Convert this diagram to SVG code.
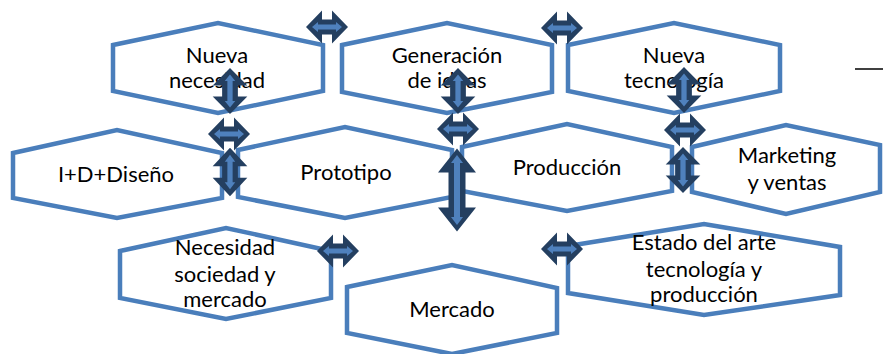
<svg xmlns="http://www.w3.org/2000/svg" width="883" height="354" viewBox="0 0 883 354">
<style>
.hex{fill:#fff;stroke:#4A7EBB;stroke-width:4.5;stroke-linejoin:miter}
.t{font-family:Lato,"Liberation Sans",sans-serif;font-size:22px;fill:#000;text-anchor:middle}
.ao{fill:#243F60}
.ai{fill:#4F81BD}
</style>
<defs>
<g id="arrS">
<path class="ao" d="M-21,0 L-5,-16.5 L-5,-7.5 L5,-7.5 L5,-16.5 L21,0 L5,16.5 L5,7.5 L-5,7.5 L-5,16.5 Z"/>
<path class="ai" d="M-15,0 L-9,-5 L-9,-2.5 L9,-2.5 L9,-5 L15,0 L9,5 L9,2.5 L-9,2.5 L-9,5 Z"/>
</g>
<g id="arrL">
<path class="ao" d="M-41.5,0 L-17.5,-19 L-17.5,-8.5 L17.5,-8.5 L17.5,-19 L41.5,0 L17.5,19 L17.5,8.5 L-17.5,8.5 L-17.5,19 Z"/>
<path class="ai" d="M-35,0 L-27,-6 L-27,-3 L27,-3 L27,-6 L35,0 L27,6 L27,3 L-27,3 L-27,6 Z"/>
</g>
</defs>
<line x1="855" y1="69" x2="883" y2="69" stroke="#000" stroke-width="1.5"/>
<g id="n1"><polygon class="hex" points="113,45 218,23 323,45 323,91 218,113 113,91"/><text class="t" x="217" y="63">Nueva</text><text class="t" x="217" y="88">necesidad</text></g>
<g id="n2"><polygon class="hex" points="342,45 447,23 552,45 552,92 447,113 342,92"/><text class="t" x="447" y="63">Generación</text><text class="t" x="447" y="88">de ideas</text></g>
<g id="n3"><polygon class="hex" points="568,45 674,23 780,45 780,91 674,113 568,91"/><text class="t" x="674" y="63">Nueva</text><text class="t" x="674" y="88">tecnología</text></g>
<g id="n4"><polygon class="hex" points="13,153 117,130 222,153 222,198 117,218 13,198"/><text class="t" x="116" y="182">I+D+Diseño</text></g>
<g id="n5"><polygon class="hex" points="238,150 345,127 452,150 452,197 345,218 238,197"/><text class="t" x="346" y="180">Prototipo</text></g>
<g id="n6"><polygon class="hex" points="462,147 567,124 672,147 672,191 567,211 462,191"/><text class="t" x="567" y="175">Producción</text></g>
<g id="n7"><polygon class="hex" points="692,147 786,125 880,145 880,192 786,214 692,192"/><text class="t" x="787" y="163">Marketing</text><text class="t" x="787" y="190">y ventas</text></g>
<g id="n8"><polygon class="hex" points="120,251 226,228 331,251 331,298 226,319 120,298"/><text class="t" x="225" y="255">Necesidad</text><text class="t" x="225" y="282">sociedad y</text><text class="t" x="225" y="307">mercado</text></g>
<g id="n9"><polygon class="hex" points="347,287 452,265 557,288 557,333 452,354 347,333"/><text class="t" x="452" y="317">Mercado</text></g>
<g id="n10"><polygon class="hex" points="568,246 704,224 840,247 840,295 704,315 568,293"/><text class="t" x="704" y="250">Estado del arte</text><text class="t" x="704" y="277">tecnología y</text><text class="t" x="704" y="302">producción</text></g>
<g id="connectors">
<use href="#arrS" transform="translate(327,27)"/>
<use href="#arrS" transform="translate(562,28)"/>
<use href="#arrS" transform="translate(229,134)"/>
<use href="#arrS" transform="translate(458,129)"/>
<use href="#arrS" transform="translate(685,130)"/>
<use href="#arrS" transform="translate(338,251)"/>
<use href="#arrS" transform="translate(562,249)"/>
<use href="#arrS" transform="translate(230,91) rotate(90) scale(1.1,1.05)"/>
<use href="#arrS" transform="translate(458,91) rotate(90) scale(1.1,1.05)"/>
<use href="#arrS" transform="translate(684,90) rotate(90) scale(1.1,1.05)"/>
<use href="#arrS" transform="translate(230,172) rotate(90) scale(1.15,1.05)"/>
<use href="#arrS" transform="translate(683,170) rotate(90) scale(1.1,1.05)"/>
<use href="#arrL" transform="translate(457,190) rotate(90)"/>
</g>
</svg>
